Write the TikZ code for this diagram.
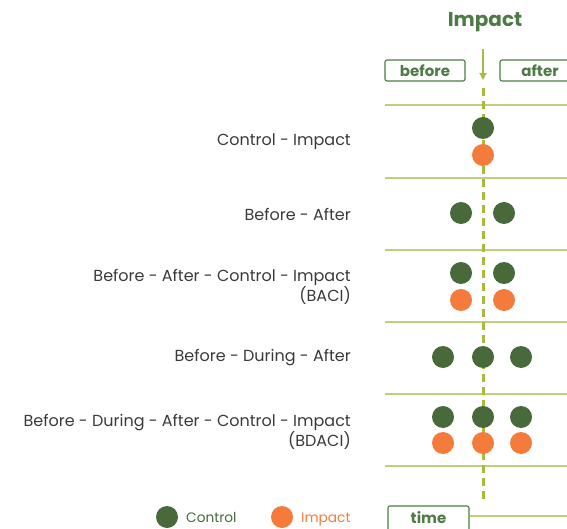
\documentclass[tikz,border=0pt]{standalone}
\usepackage{fontspec}
\setmainfont{Poppins}
\usetikzlibrary{arrows.meta}
\definecolor{cgreen}{HTML}{48693A}
\definecolor{corange}{HTML}{F47B3B}
\definecolor{cline}{HTML}{C3CE7A}
\definecolor{cdash}{HTML}{ABBA3E}
\definecolor{cbox}{HTML}{4E7B45}
\definecolor{ctext}{HTML}{3A3A3A}
\begin{document}
\begin{tikzpicture}[x=1pt,y=-1pt,
  ctrl/.style={circle,fill=cgreen,minimum size=22pt,inner sep=0pt},
  imp/.style={circle,fill=corange,minimum size=22pt,inner sep=0pt},
  sep/.style={cline,line width=1.3pt},
  lab/.style={font=\fontsize{16}{20.5}\selectfont,text=ctext,align=right,anchor=east,inner sep=0pt},
  leg/.style={anchor=base west,inner sep=0pt,font=\fontsize{13.7}{15}\selectfont},
  tbox/.style={draw=cbox,line width=1.1pt,rounded corners=2pt,font=\bfseries\fontsize{15}{16}\selectfont,text=cbox,minimum height=20pt,inner sep=0pt}]
\useasboundingbox (0,0) rectangle (567,529);
% separators
\foreach \yy [count=\i] in {105,178,250,322,394,466}{
  \coordinate (l\i) at (385,\yy);
  \coordinate (r\i) at (567,\yy);
  \draw[sep] (l\i) -- (r\i);
}
% impact title and arrow
\node[font=\bfseries\fontsize{20}{22}\selectfont,text=cbox,anchor=base] (title) at (485,27) {Impact};
\coordinate (atop) at (483,49);
\coordinate (abot) at (483,80);
\draw[cdash,line width=1.3pt,-{Triangle[width=7pt,length=7pt]}] (atop) -- (abot);
\coordinate (dtop) at (483,88);
\coordinate (dbot) at (483,500);
\draw[cdash,line width=3pt,dash pattern=on 8pt off 5pt] (dtop) -- (dbot);
% boxes
\node[tbox,minimum width=80pt,minimum height=21pt] (before) at (425,70.5) {before};
\node[tbox,minimum width=80pt,minimum height=21pt] (after) at (540,70.5) {after};
\node[tbox,minimum width=81pt,minimum height=28pt] (time) at (428.5,520) {};
\node[font=\bfseries\fontsize{15}{16}\selectfont,text=cbox,anchor=base] (timelab) at (428.5,523) {time};
\coordinate (tend) at (567,516);
\draw[sep] (time.east |- tend) -- (tend);
% labels
\node[lab] (t1) at (351,142) {Control - Impact};
\node[lab] (t2) at (351,214) {Before - After};
\node[lab] (t3) at (351,287) {Before - After - Control - Impact\\(BACI)};
\node[lab] (t4) at (351,358) {Before - During - After};
\node[lab] (t5) at (351,432) {Before - During - After - Control - Impact\\(BDACI)};
% dots
\node[ctrl] (a1) at (483,128) {};
\node[imp]  (a2) at (483,155) {};
\node[ctrl] (b1) at (461,213) {};
\node[ctrl] (b2) at (504,213) {};
\node[ctrl] (c1) at (461,273) {};
\node[ctrl] (c2) at (504,273) {};
\node[imp]  (c3) at (461,300) {};
\node[imp]  (c4) at (504,300) {};
\node[ctrl] (d1) at (443,357) {};
\node[ctrl] (d2) at (483,357) {};
\node[ctrl] (d3) at (521,357) {};
\node[ctrl] (e1) at (443,417) {};
\node[ctrl] (e2) at (483,417) {};
\node[ctrl] (e3) at (521,417) {};
\node[imp]  (e4) at (443,443) {};
\node[imp]  (e5) at (483,443) {};
\node[imp]  (e6) at (521,443) {};
% legend
\node[ctrl] (lg1) at (167,517) {};
\node[leg,text=cgreen] (lt1) at (186,522) {Control};
\node[imp] (lg2) at (282,517) {};
\node[leg,text=corange] (lt2) at (301,522) {Impact};
\end{tikzpicture}
\end{document}
